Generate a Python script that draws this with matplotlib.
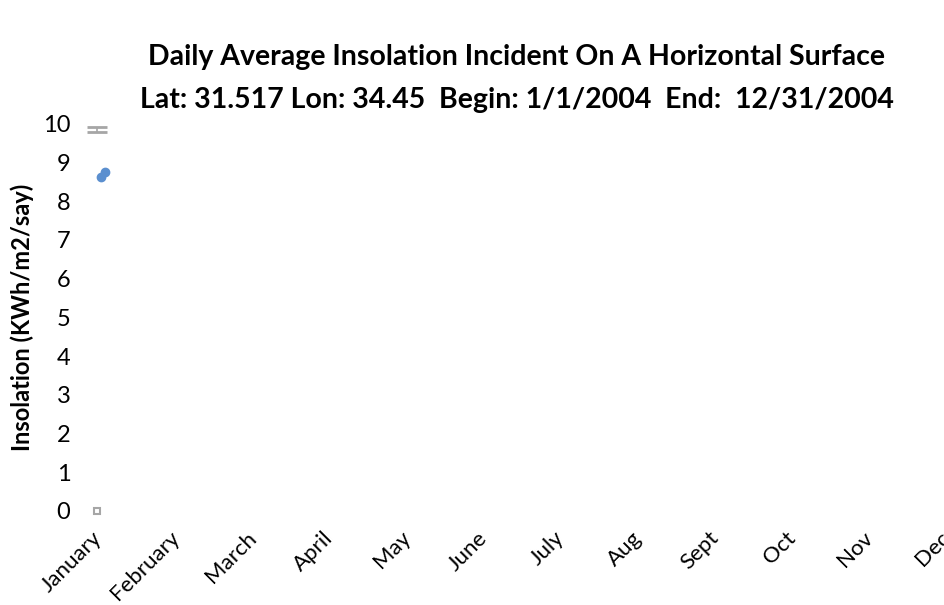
import matplotlib
matplotlib.use("Agg")
import matplotlib.pyplot as plt
import matplotlib.transforms as mtransforms

plt.rcParams['font.family'] = ['Lato', 'DejaVu Sans']

# months on the category axis
months = ['January', 'February', 'March', 'April', 'May', 'June',
          'July', 'Aug', 'Sept', 'Oct', 'Nov', 'Dec']

# the only plotted values (all squeezed onto January)
high_x = [0.0]
high_y = [9.85]
avg_x = [0.1, 0.05]
avg_y = [8.75, 8.62]
low_x = [0.0]
low_y = [0.0]

fig = plt.figure(figsize=(9.45, 6.05), dpi=100)
ax = fig.add_axes([0.0847, 0.1554, 0.9153, 0.6400])

# high marker, drawn like a small cap pair
ax.errorbar(high_x, high_y, yerr=0.07, fmt='none', ecolor='#a6a6a6',
            elinewidth=1.2, capsize=7, capthick=2, clip_on=False)
# averages
ax.plot(avg_x, avg_y, 'o', color='#5b8fcf', markersize=6, clip_on=False)
# low marker
ax.plot(low_x, low_y, 's', mfc='none', mec='#a6a6a6', mew=1.5,
        markersize=5, clip_on=False)

ax.set_xlim(-0.22, 11.01)
ax.set_ylim(0, 10)
ax.set_yticks(range(0, 11))
ax.set_xticks(range(len(months)))
ax.set_xticklabels(months, rotation=45, ha='right', rotation_mode='anchor')
ax.tick_params(axis='y', length=0, labelsize=17, pad=7)
ax.tick_params(axis='x', length=0, labelsize=16, pad=12)
for s in ax.spines.values():
    s.set_visible(False)

# nudge month labels a bit left
shift = mtransforms.ScaledTranslation(-5/100, 0, fig.dpi_scale_trans)
for lab in ax.get_xticklabels():
    lab.set_transform(lab.get_transform() + shift)

ax.set_ylabel('Insolation (KWh/m2/say)', fontsize=17, fontweight='bold', labelpad=6)

fig.text(0.547, 0.905, 'Daily Average Insolation Incident On A Horizontal Surface',
         ha='center', va='center', fontsize=20.5, fontweight='bold')
fig.text(0.547, 0.834, 'Lat: 31.517 Lon: 34.45  Begin: 1/1/2004  End:  12/31/2004',
         ha='center', va='center', fontsize=20.5, fontweight='bold')

plt.savefig('out.png', dpi=100)
